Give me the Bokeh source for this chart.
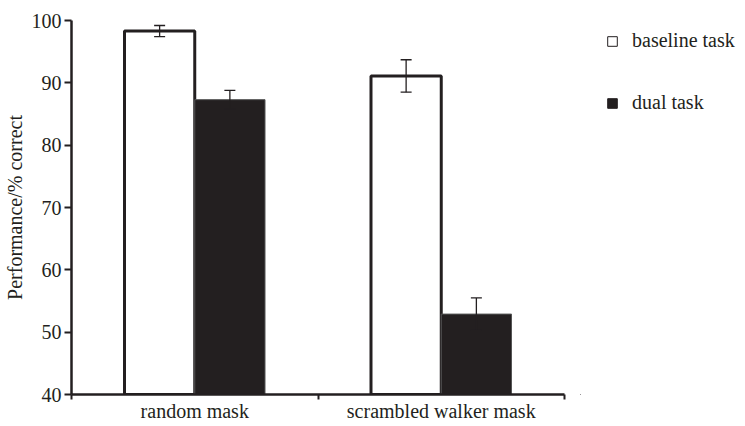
from bokeh.plotting import figure
from bokeh.layouts import row
from bokeh.models import (Range1d, FixedTicker, Legend, LegendItem, Whisker,
                          ColumnDataSource, TeeHead)
from bokeh.embed import file_html
from bokeh.resources import INLINE

categories = ["random mask", "scrambled walker mask"]
series = ["baseline task", "dual task"]
baseline = [98.3, 91.1]
baseline_err = [0.9, 2.6]
dual = [87.3, 52.9]
dual_err = [1.5, 2.6]
y_ticks = [40, 50, 60, 70, 80, 90, 100]

INK = "#231f20"
FONT = "Liberation Serif"
FS = "20px"
H = 424

idx = list(range(len(categories)))
bw = 0.285
src_b = ColumnDataSource(dict(
    x=[i + 0.5 - bw / 2 for i in idx], top=baseline,
    up=[v + e for v, e in zip(baseline, baseline_err)],
    lo=[v - e for v, e in zip(baseline, baseline_err)]))
src_d = ColumnDataSource(dict(
    x=[i + 0.5 + bw / 2 for i in idx], top=dual,
    up=[v + e for v, e in zip(dual, dual_err)],
    lo=[v - e for v, e in zip(dual, dual_err)]))

p = figure(width=580, height=H, output_backend="svg", toolbar_location=None,
           x_range=Range1d(0, len(categories)), y_range=Range1d(y_ticks[0], y_ticks[-1]),
           min_border_left=71, min_border_right=16, min_border_top=20,
           min_border_bottom=26)
p.outline_line_color = None
p.xgrid.visible = False
p.ygrid.visible = False
p.background_fill_color = "white"
p.border_fill_color = "white"

p.vbar(x="x", top="top", bottom=y_ticks[0], width=bw, source=src_b,
       fill_color="white", line_color=INK, line_width=3)
p.vbar(x="x", top="top", bottom=y_ticks[0], width=bw, source=src_d,
       fill_color=INK, line_color="#555555", line_width=1)

for s in (src_b, src_d):
    w = Whisker(base="x", upper="up", lower="lo", source=s, dimension="height",
                line_color=INK, line_width=1.3, level="annotation",
                upper_head=TeeHead(size=11, line_color=INK, line_width=1.3),
                lower_head=TeeHead(size=11, line_color=INK, line_width=1.3))
    p.add_layout(w)

xa = p.xaxis[0]
xa.ticker = FixedTicker(ticks=[i + 0.5 for i in idx], minor_ticks=list(range(len(categories) + 1)))
xa.major_label_overrides = {i + 0.5: c for i, c in zip(idx, categories)}
xa.major_tick_out = 0
xa.major_tick_in = 0
xa.minor_tick_out = 5
xa.minor_tick_in = 0
xa.minor_tick_line_color = INK
xa.minor_tick_line_width = 2
xa.major_label_standoff = 0

ya = p.yaxis[0]
ya.ticker = FixedTicker(ticks=y_ticks)
ya.minor_tick_line_color = None
ya.major_tick_out = 7
ya.major_tick_in = 0
ya.major_tick_line_width = 2
ya.major_tick_line_color = INK
ya.major_label_standoff = 3
ya.axis_label = "Performance/% correct"
ya.axis_label_standoff = 3

for ax in (xa, ya):
    ax.axis_line_color = INK
    ax.axis_line_width = 2.5
    ax.major_label_text_font = FONT
    ax.major_label_text_font_size = FS
    ax.major_label_text_color = INK
    ax.axis_label_text_font = FONT
    ax.axis_label_text_font_size = FS
    ax.axis_label_text_font_style = "normal"
    ax.axis_label_text_color = INK

# legend panel
lg = figure(width=160, height=H, output_backend="svg", toolbar_location=None,
            x_range=Range1d(0, 1), y_range=Range1d(0, 1),
            x_axis_location=None, y_axis_location=None,
            min_border=0)
lg.outline_line_color = None
lg.xgrid.visible = False
lg.ygrid.visible = False
lb = lg.vbar(x=[-10], top=[-9], bottom=[-10], width=0.1, fill_color="white",
             line_color=INK, line_width=1)
ld = lg.vbar(x=[-10], top=[-9], bottom=[-10], width=0.1, fill_color=INK,
             line_color=INK, line_width=1)
legend = Legend(items=[LegendItem(label=series[0], renderers=[lb]),
                       LegendItem(label=series[1], renderers=[ld])],
                location=(26, 280), orientation="vertical",
                glyph_width=12, glyph_height=12, label_standoff=14,
                label_text_font=FONT, label_text_font_size=FS, label_text_color=INK,
                label_height=22, spacing=39, padding=0, margin=0,
                border_line_color=None, background_fill_alpha=0)
lg.add_layout(legend, "center")

open("out.html", "w").write(file_html(row(p, lg), INLINE))
